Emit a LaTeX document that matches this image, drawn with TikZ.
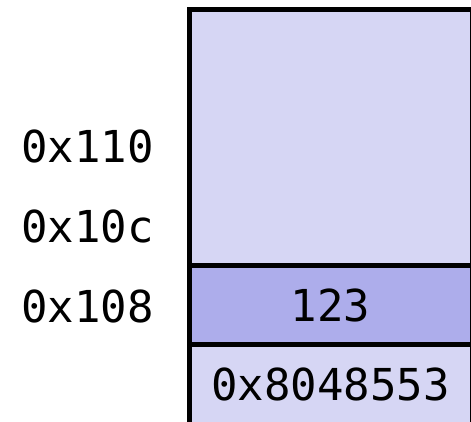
\documentclass[tikz,border=0pt]{standalone}
\usepackage{fontspec}
\setmonofont{DejaVu Sans Mono}
\usetikzlibrary{positioning}
\definecolor{lila}{RGB}{214,214,244}
\definecolor{lilascuro}{RGB}{173,173,235}
\tikzset{
  stack/.style={
    frame/.style={black,line width=5pt},
    slot value/.style={font={\fontsize{44}{50}\selectfont\ttfamily},inner sep=0pt},
    slot addr/.style={font={\fontsize{44}{50}\selectfont\ttfamily},inner sep=0pt,anchor=east},
  }
}

\begin{document}
\begin{tikzpicture}[stack,x=1pt,y=-1pt]
    \useasboundingbox (0,0) rectangle (471,421);

    % stack body
    \fill[lila] (189.5,9.5) rectangle (472,430);
    \fill[lilascuro] (189.5,265.5) rectangle (472,344.5);
    \draw[frame] (189.5,430) |- (472,9.5) -- (472,430);
    \draw[frame] (189.5,265.5) -- (472,265.5);
    \draw[frame] (189.5,344.5) -- (472,344.5);

    % contents
    \node[slot value] (val) at (330.5,305) {123};
    \node[slot value] (ret) at (330.5,384) {0x8048553};

    % addresses
    \foreach \a/\y in {0x110/146,0x10c/226,0x108/306}
        \node[slot addr] (addr\a) at (154,\y) {\a};
\end{tikzpicture}
\end{document}
